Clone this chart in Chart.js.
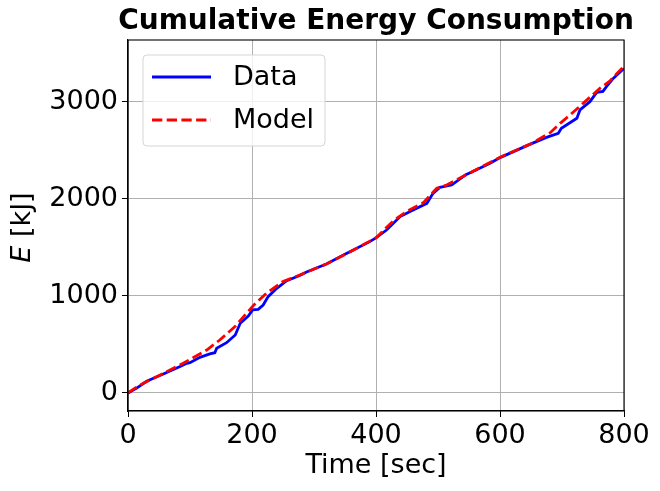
<!DOCTYPE html>
<html lang="en">
<head>
    <meta charset="UTF-8">
    <title>Cumulative Energy Consumption</title>
    <style>
        html, body { margin: 0; padding: 0; background: #fff; }
    </style>
</head>
<body>
    <canvas id="myChart" width="660" height="491"></canvas>

    <script src="https://cdn.jsdelivr.net/npm/chart.js@4.4.0/dist/chart.umd.min.js"></script>
    <script>
        // measured data
        let dataTime = [0, 14, 30, 57, 84, 95, 100, 116, 132, 140, 143, 159, 173, 181, 194, 201, 210, 218, 226, 240, 256, 277, 288, 320, 353, 390, 401, 417, 439, 455, 482, 492, 503, 522, 544, 552, 584, 601, 648, 675, 694, 699, 724, 729, 745, 756, 766, 772, 783, 800];
        let dataEnergy = [0, 50, 120, 196, 272, 306, 312, 367, 402, 415, 460, 518, 598, 718, 794, 856, 862, 906, 993, 1079, 1157, 1210, 1248, 1330, 1440, 1560, 1604, 1680, 1818, 1870, 1955, 2058, 2120, 2144, 2247, 2271, 2368, 2429, 2563, 2635, 2677, 2728, 2832, 2918, 3003, 3099, 3109, 3160, 3245, 3346];

        // model fit
        let modelTime = [0, 10, 25, 60, 89, 127, 148, 173, 191, 203, 223, 250, 277, 320, 360, 400, 428, 450, 476, 498, 514, 550, 600, 650, 681, 697, 713, 734, 761, 777, 800];
        let modelEnergy = [0, 45, 100, 210, 306, 443, 546, 687, 821, 906, 1027, 1148, 1216, 1330, 1460, 1600, 1775, 1875, 1960, 2110, 2144, 2265, 2430, 2570, 2683, 2780, 2866, 2986, 3140, 3215, 3370];

        let xTicks = [0, 200, 400, 600, 800];
        let yTicks = [0, 1000, 2000, 3000];

        const FONT = "'DejaVu Sans', sans-serif";

        function pts(xs, ys) {
            return xs.map((x, i) => ({x: x, y: ys[i]}));
        }

        const series = [
            {label: 'Data', color: '#0000ff', dash: []},
            {label: 'Model', color: '#ff0000', dash: [10.3, 4.4]}
        ];

        // frame, title, axis titles and legend box drawn on top
        const extras = {
            id: 'extras',
            afterDatasetsDraw(chart) {
                const ctx = chart.ctx, a = chart.chartArea;
                ctx.save();
                ctx.strokeStyle = '#000';
                ctx.lineWidth = 1.1;
                ctx.strokeRect(a.left, a.top, a.right - a.left, a.bottom - a.top);

                // title
                ctx.fillStyle = '#000';
                ctx.font = 'bold 28px ' + FONT;
                ctx.textAlign = 'center';
                ctx.textBaseline = 'middle';
                ctx.fillText('Cumulative Energy Consumption', (a.left + a.right) / 2, 22);

                // legend
                const bx = 143, by = 55, bw = 182, bh = 91, r = 4;
                ctx.beginPath();
                ctx.roundRect(bx, by, bw, bh, r);
                ctx.fillStyle = 'rgba(255,255,255,0.8)';
                ctx.fill();
                ctx.strokeStyle = '#d5d5d5';
                ctx.lineWidth = 1;
                ctx.stroke();
                ctx.font = '27px ' + FONT;
                ctx.textBaseline = 'middle';
                ctx.textAlign = 'left';
                series.forEach((s, i) => {
                    const y = 77 + i * 43;
                    ctx.beginPath();
                    ctx.setLineDash(s.dash);
                    ctx.strokeStyle = s.color;
                    ctx.lineWidth = 2.8;
                    ctx.moveTo(152, y);
                    ctx.lineTo(211, y);
                    ctx.stroke();
                    ctx.setLineDash([]);
                    ctx.fillStyle = '#000';
                    ctx.fillText(s.label, 233, y + 1);
                });

                // axis titles
                ctx.fillStyle = '#000';
                ctx.textAlign = 'center';
                ctx.fillText('Time [sec]', (a.left + a.right) / 2, 466);

                ctx.translate(23, (a.top + a.bottom) / 2 + 2);
                ctx.rotate(-Math.PI / 2);
                ctx.font = 'italic 27px ' + FONT;
                const we = ctx.measureText('E').width;
                ctx.font = '27px ' + FONT;
                const wr = ctx.measureText(' [kJ]').width;
                ctx.textAlign = 'left';
                ctx.font = 'italic 27px ' + FONT;
                ctx.fillText('E', -(we + wr) / 2, 0);
                ctx.font = '27px ' + FONT;
                ctx.fillText(' [kJ]', -(we + wr) / 2 + we, 0);
                ctx.restore();
            }
        };

        var ctx = document.getElementById('myChart').getContext('2d');
        var myChart = new Chart(ctx, {
            type: 'line',
            data: {
                datasets: [
                    {label: 'Data', data: pts(dataTime, dataEnergy), borderColor: series[0].color, borderWidth: 2.8, pointRadius: 0, tension: 0, order: 2},
                    {label: 'Model', data: pts(modelTime, modelEnergy), borderColor: series[1].color, borderWidth: 2.8, borderDash: series[1].dash, pointRadius: 0, tension: 0, order: 1}
                ]
            },
            options: {
                responsive: false,
                animation: false,
                layout: {padding: {top: 40, right: 36, bottom: 0, left: 0}},
                plugins: {
                    legend: {display: false},
                    tooltip: {enabled: false},
                    title: {display: false}
                },
                scales: {
                    x: {
                        type: 'linear',
                        min: 0, max: 800,
                        afterBuildTicks: (s) => { s.ticks = xTicks.map(v => ({value: v})); },
                        afterFit: (s) => { s.height = 80; },
                        grid: {color: '#b0b0b0', lineWidth: 1, tickColor: '#000', tickLength: 6},
                        border: {color: '#000', width: 1.1},
                        ticks: {color: '#000', font: {family: FONT, size: 27}, padding: 3, maxRotation: 0, callback: (v) => String(v)}
                    },
                    y: {
                        type: 'linear',
                        min: -186, max: 3639,
                        afterBuildTicks: (s) => { s.ticks = yTicks.map(v => ({value: v})); },
                        afterFit: (s) => { s.width = 128; },
                        grid: {color: '#b0b0b0', lineWidth: 1, tickColor: '#000', tickLength: 6},
                        border: {color: '#000', width: 1.1},
                        ticks: {color: '#000', font: {family: FONT, size: 27}, padding: 4, callback: (v) => String(v)}
                    }
                }
            },
            plugins: [extras]
        });
    </script>
</body>
</html>
